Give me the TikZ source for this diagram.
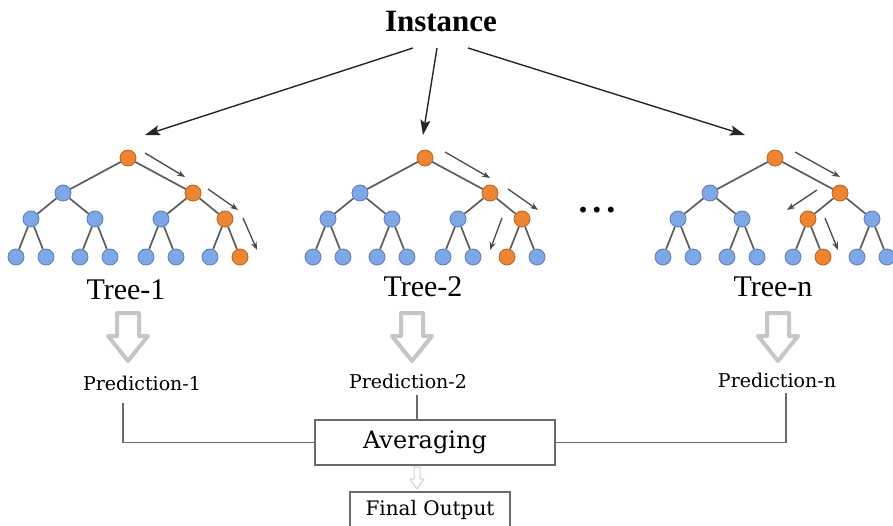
\documentclass[tikz,border=0pt]{standalone}
\usepackage{fontspec}
\setmainfont{Liberation Serif}
\newfontfamily\slab{DejaVu Serif}
\usetikzlibrary{arrows.meta}
\definecolor{nblue}{HTML}{7FA6E6}
\definecolor{nblued}{HTML}{5A7DB8}
\definecolor{norange}{HTML}{EE8533}
\definecolor{noranged}{HTML}{B8621E}
\definecolor{edgec}{HTML}{5C5C5C}
\definecolor{hollowc}{HTML}{C6C6C6}
\definecolor{connc}{HTML}{6A6A6A}
\newcommand{\rftree}[4]{%
  \node[tnode,fill=norange,draw=noranged] (#1r) at (#2,158) {};
  \node[tnode,fill=nblue,draw=nblued] (#1a1) at (#2-65,193) {};
  \node[tnode,fill=norange,draw=noranged] (#1a2) at (#2+65,193) {};
  \foreach \i/\p/\dx in {1/1/-97,2/1/-33,3/2/33,4/2/97}{
    \ifnum\i=#3\relax\def\fc{norange}\def\dc{noranged}\else\def\fc{nblue}\def\dc{nblued}\fi
    \node[tnode,fill=\fc,draw=\dc] (#1b\i) at (#2+\dx,219) {};
  }
  \foreach \j/\p/\dx in {1/1/-112,2/1/-82,3/2/-48,4/2/-18,5/3/18,6/3/48,7/4/82,8/4/112}{
    \ifnum\j=#4\relax\def\fc{norange}\def\dc{noranged}\else\def\fc{nblue}\def\dc{nblued}\fi
    \node[tnode,fill=\fc,draw=\dc] (#1c\j) at (#2+\dx,257) {};
  }
  \draw[tedge] (#1r) -- (#1a1);
  \draw[tedge] (#1r) -- (#1a2);
  \foreach \i/\p in {1/1,2/1,3/2,4/2}{\draw[tedge] (#1a\p) -- (#1b\i);}
  \foreach \j/\p in {1/1,2/1,3/2,4/2,5/3,6/3,7/4,8/4}{\draw[tedge] (#1b\p) -- (#1c\j);}
}
\newcommand{\bigdown}[1]{%
  \draw[hollow] (#1-11,313) -- (#1+11,313) -- (#1+11,336) -- (#1+20,336) -- (#1,361)
    -- (#1-20,336) -- (#1-11,336) -- cycle;
}
\begin{document}
\begin{tikzpicture}[x=1pt,y=-1pt,
  tnode/.style={circle,minimum size=16pt,inner sep=0pt,line width=0.8pt},
  tedge/.style={draw=edgec,line width=1.7pt},
  trarrow/.style={draw=edgec!80!black,line width=1.3pt,-{Stealth[length=8pt,width=6pt]}},
  instarrow/.style={draw=black!85,line width=1.4pt,-{Stealth[length=15pt,width=10pt,inset=3pt]}},
  hollow/.style={draw=hollowc,line width=4pt,line join=round},
  smallhollow/.style={draw=hollowc!80,line width=1pt,line join=round},
  treelbl/.style={font=\fontsize{30}{32}\selectfont,inner sep=0pt},
  pred/.style={font=\slab\fontsize{19}{21}\selectfont,inner sep=0pt},
  conn/.style={draw=connc,line width=1.5pt},
  boxst/.style={draw=connc,line width=1.4pt,inner sep=0pt}
]
\useasboundingbox (0,0) rectangle (893,526);
\clip (0,0) rectangle (893,526);
\fill[white] (0,0) rectangle (893,526);

% title
\node[font=\bfseries\fontsize{31}{33}\selectfont,inner sep=0pt] (inst) at (441,22) {Instance};
\coordinate (s1) at (413,48);
\coordinate (s2) at (437,48);
\coordinate (s3) at (468,48);
\coordinate (e1) at (145,135);
\coordinate (e2) at (423,135);
\coordinate (e3) at (745,135);
\draw[instarrow] (s1) -- (e1);
\draw[instarrow] (s2) -- (e2);
\draw[instarrow] (s3) -- (e3);

% trees
\rftree{ta}{128}{4}{8}
\rftree{tb}{425}{4}{7}
\rftree{tn}{775}{3}{6}

% traversal arrows
\draw[trarrow] (145,153) -- (185,177);
\draw[trarrow] (208,189) -- (238,210);
\draw[trarrow] (243,218) -- (257,250);
\draw[trarrow] (445,152) -- (490,178);
\draw[trarrow] (508,189) -- (538,210);
\draw[trarrow] (502,218) -- (490,250);
\draw[trarrow] (795,152) -- (840,177);
\draw[trarrow] (817,190) -- (787,210);
\draw[trarrow] (825,218) -- (838,250);

\node[font=\bfseries\fontsize{36}{38}\selectfont,inner sep=0pt] (dots) at (597,210) {.\hspace{5pt}.\hspace{5pt}.};

% tree labels
\node[treelbl] (l1) at (126,290) {Tree-1};
\node[treelbl] (l2) at (423,287) {Tree-2};
\node[treelbl] (ln) at (773,287) {Tree-n};

% hollow arrows
\bigdown{128}
\bigdown{412}
\bigdown{778}

% predictions
\node[pred] (p1) at (142,383) {Prediction-1};
\node[pred] (p2) at (408,381) {Prediction-2};
\node[pred] (pn) at (777,380) {Prediction-n};

% averaging
\node[boxst,minimum width=240pt,minimum height=45pt,font=\slab\fontsize{24}{26}\selectfont] (avg) at (435,442.5) {\hspace*{-20pt}Averaging};
\draw[conn] ([xshift=-19pt,yshift=-12pt]p1.south) |- (avg.west);
\draw[conn] ([xshift=9pt,yshift=-6pt]p2.south) -- ([xshift=9pt]p2.south |- avg.north);
\draw[conn] ([xshift=9pt,yshift=-5pt]pn.south) |- (avg.east);

% final output
\node[boxst,minimum width=160pt,minimum height=36pt,font=\slab\fontsize{20}{22}\selectfont] (fin) at (430,510) {Final Output};
\draw[smallhollow] (414,467) -- (420,467) -- (420,479) -- (424,479) -- (417,489) -- (410,479) -- (414,479) -- cycle;
\end{tikzpicture}
\end{document}
